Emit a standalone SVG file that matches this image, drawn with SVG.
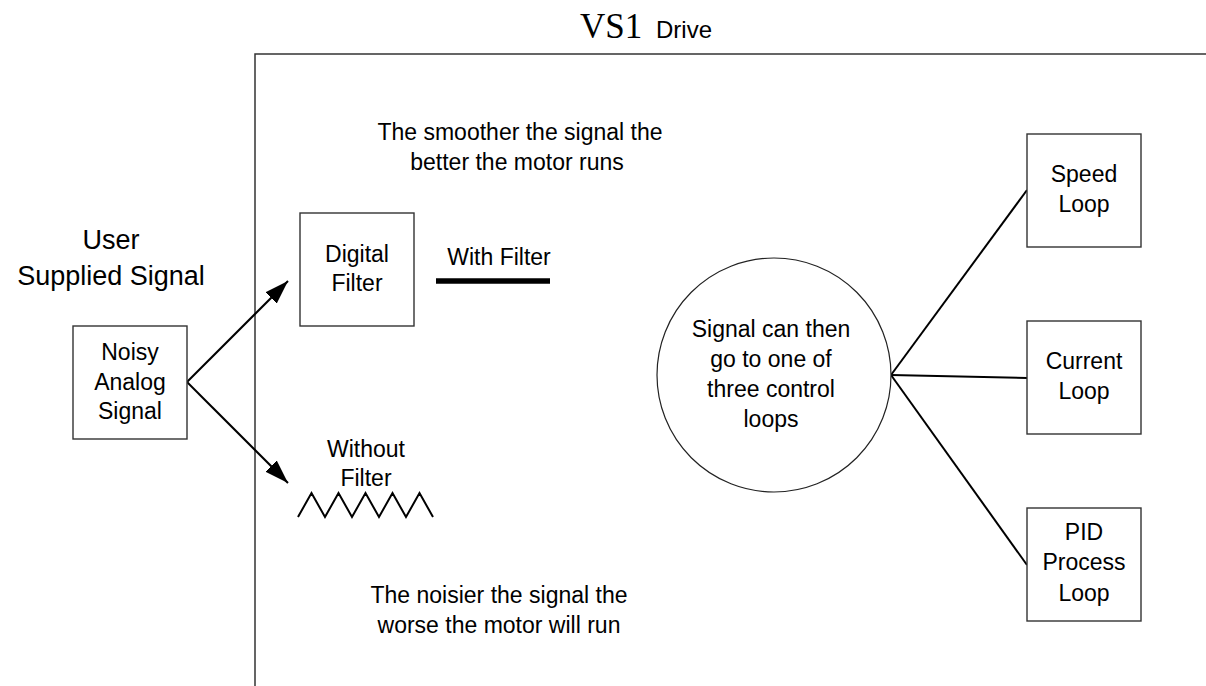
<svg xmlns="http://www.w3.org/2000/svg" width="1206" height="686" viewBox="0 0 1206 686">
<style>
.t{font-family:"Liberation Sans",Arial,sans-serif;font-size:23px;fill:#000;text-anchor:middle}
.box{fill:#fff;stroke:#333;stroke-width:1.4}
.ln{stroke:#000;stroke-width:2;fill:none}
</style>
<defs>
<marker id="ah2" markerWidth="24" markerHeight="16" refX="24" refY="8" orient="auto" markerUnits="userSpaceOnUse" viewBox="0 0 24 16">
<path d="M0,0 L24,8 L0,16 z" fill="#000"/>
</marker>
</defs>
<rect width="1206" height="686" fill="#fff"/>
<g id="frame">
<polyline points="255,686 255,54 1206,54" fill="none" stroke="#333" stroke-width="1.5"/>
<text x="580" y="38" font-family="'Liberation Serif','Times New Roman',serif" font-size="35">VS1</text>
<text x="656" y="38" font-family="'Liberation Sans',Arial,sans-serif" font-size="24">Drive</text>
</g>
<g id="user-label">
<text class="t" x="111" y="249" style="font-size:27px">User</text>
<text class="t" x="111" y="285" style="font-size:27px">Supplied Signal</text>
</g>
<g id="connectors">
<line class="ln" x1="187" y1="382" x2="288" y2="281" marker-end="url(#ah2)"/>
<line class="ln" x1="187" y1="382" x2="288" y2="483" marker-end="url(#ah2)"/>
<line class="ln" x1="891" y1="375" x2="1027" y2="190"/>
<line class="ln" x1="891" y1="375" x2="1027" y2="378"/>
<line class="ln" x1="891" y1="375" x2="1027" y2="565"/>
</g>
<g id="noisy">
<rect class="box" x="73" y="326" width="114" height="113"/>
<text class="t" x="130" y="360">Noisy</text>
<text class="t" x="130" y="390">Analog</text>
<text class="t" x="130" y="419">Signal</text>
</g>
<g id="digital-filter">
<rect class="box" x="300" y="213" width="114" height="113"/>
<text class="t" x="357" y="262">Digital</text>
<text class="t" x="357" y="291">Filter</text>
</g>
<g id="note-smooth">
<text class="t" x="520" y="140">The smoother the signal the</text>
<text class="t" x="517" y="170">better the motor runs</text>
</g>
<g id="with-filter">
<text class="t" x="499" y="265">With Filter</text>
<line x1="436" y1="281" x2="550" y2="281" stroke="#000" stroke-width="5.5"/>
</g>
<g id="without-filter">
<text class="t" x="366" y="457">Without</text>
<text class="t" x="366" y="486">Filter</text>
<polyline points="298,517 311.5,493 325,517 338.5,493 352,517 365.5,493 379,517 392.5,493 406,517 419.5,493 433,517" fill="none" stroke="#000" stroke-width="2"/>
</g>
<g id="note-noisy">
<text class="t" x="499" y="603">The noisier the signal the</text>
<text class="t" x="499" y="633">worse the motor will run</text>
</g>
<g id="control-loops">
<circle cx="774" cy="375" r="117" fill="#fff" stroke="#222" stroke-width="1.2"/>
<text class="t" x="771" y="337">Signal can then</text>
<text class="t" x="771" y="367">go to one of</text>
<text class="t" x="771" y="397">three control</text>
<text class="t" x="771" y="427">loops</text>
</g>
<g id="speed-loop">
<rect class="box" x="1027" y="134" width="114" height="113"/>
<text class="t" x="1084" y="182">Speed</text>
<text class="t" x="1084" y="212">Loop</text>
</g>
<g id="current-loop">
<rect class="box" x="1027" y="321" width="114" height="113"/>
<text class="t" x="1084" y="369">Current</text>
<text class="t" x="1084" y="399">Loop</text>
</g>
<g id="pid-loop">
<rect class="box" x="1027" y="508" width="114" height="113"/>
<text class="t" x="1084" y="540">PID</text>
<text class="t" x="1084" y="570">Process</text>
<text class="t" x="1084" y="601">Loop</text>
</g>
</svg>
